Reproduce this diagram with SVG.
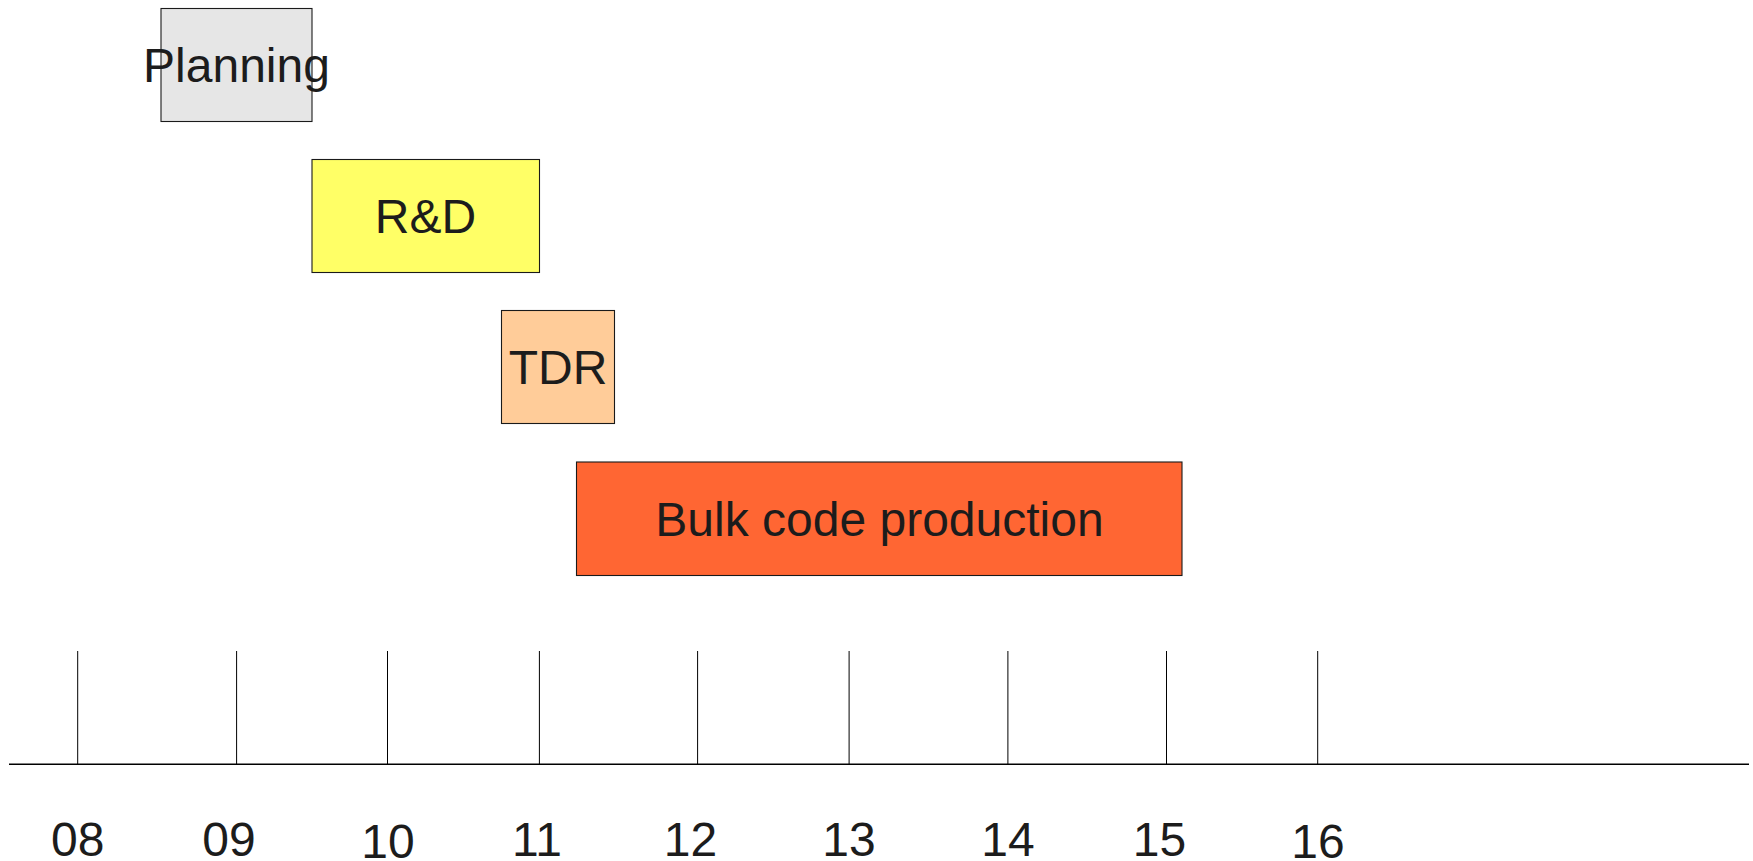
<svg xmlns="http://www.w3.org/2000/svg" width="1753" height="861" viewBox="0 0 1753 861">
  <style>
    .bar { stroke: #1a1a1a; stroke-width: 1.1; }
    .lbl { font-family: "Liberation Sans", Arial, sans-serif; font-size: 48px; fill: #1c1c1c; text-anchor: middle; }
    .tick { stroke: #000; stroke-width: 1; }
    .axis { stroke: #000; stroke-width: 1.4; }
  </style>
  <rect width="1753" height="861" fill="#ffffff"/>

  <!-- task bars -->
  <g id="planning">
    <rect class="bar" x="161" y="8.5" width="151" height="113" fill="#e6e6e6"/>
    <text class="lbl" x="236.5" y="82">Planning</text>
  </g>
  <g id="rnd">
    <rect class="bar" x="312" y="159.5" width="227.5" height="113" fill="#ffff66"/>
    <text class="lbl" x="425.5" y="233">R&amp;D</text>
  </g>
  <g id="tdr">
    <rect class="bar" x="501.5" y="310.5" width="113" height="113" fill="#ffcc99"/>
    <text class="lbl" x="558" y="384">TDR</text>
  </g>
  <g id="bulk">
    <rect class="bar" x="576.5" y="462" width="605.5" height="113.5" fill="#ff6633"/>
    <text class="lbl" x="879.5" y="535.5">Bulk code production</text>
  </g>

  <!-- time axis -->
  <g id="axis">
    <line class="axis" x1="9" y1="764.3" x2="1749" y2="764.3"/>
    <line class="tick" x1="77.7" y1="651" x2="77.7" y2="764"/>
    <line class="tick" x1="236.6" y1="651" x2="236.6" y2="764"/>
    <line class="tick" x1="387.5" y1="651" x2="387.5" y2="764"/>
    <line class="tick" x1="539.4" y1="651" x2="539.4" y2="764"/>
    <line class="tick" x1="697.6" y1="651" x2="697.6" y2="764"/>
    <line class="tick" x1="849.1" y1="651" x2="849.1" y2="764"/>
    <line class="tick" x1="1007.9" y1="651" x2="1007.9" y2="764"/>
    <line class="tick" x1="1166.5" y1="651" x2="1166.5" y2="764"/>
    <line class="tick" x1="1317.7" y1="651" x2="1317.7" y2="764"/>
  </g>
  <g id="axis-labels">
    <text class="lbl" x="77.7" y="856">08</text>
    <text class="lbl" x="229" y="856">09</text>
    <text class="lbl" x="388" y="857.5">10</text>
    <text class="lbl" x="537" y="856">11</text>
    <text class="lbl" x="690.5" y="856">12</text>
    <text class="lbl" x="849" y="856">13</text>
    <text class="lbl" x="1008" y="856">14</text>
    <text class="lbl" x="1159.5" y="856">15</text>
    <text class="lbl" x="1318" y="857.5">16</text>
  </g>
</svg>
